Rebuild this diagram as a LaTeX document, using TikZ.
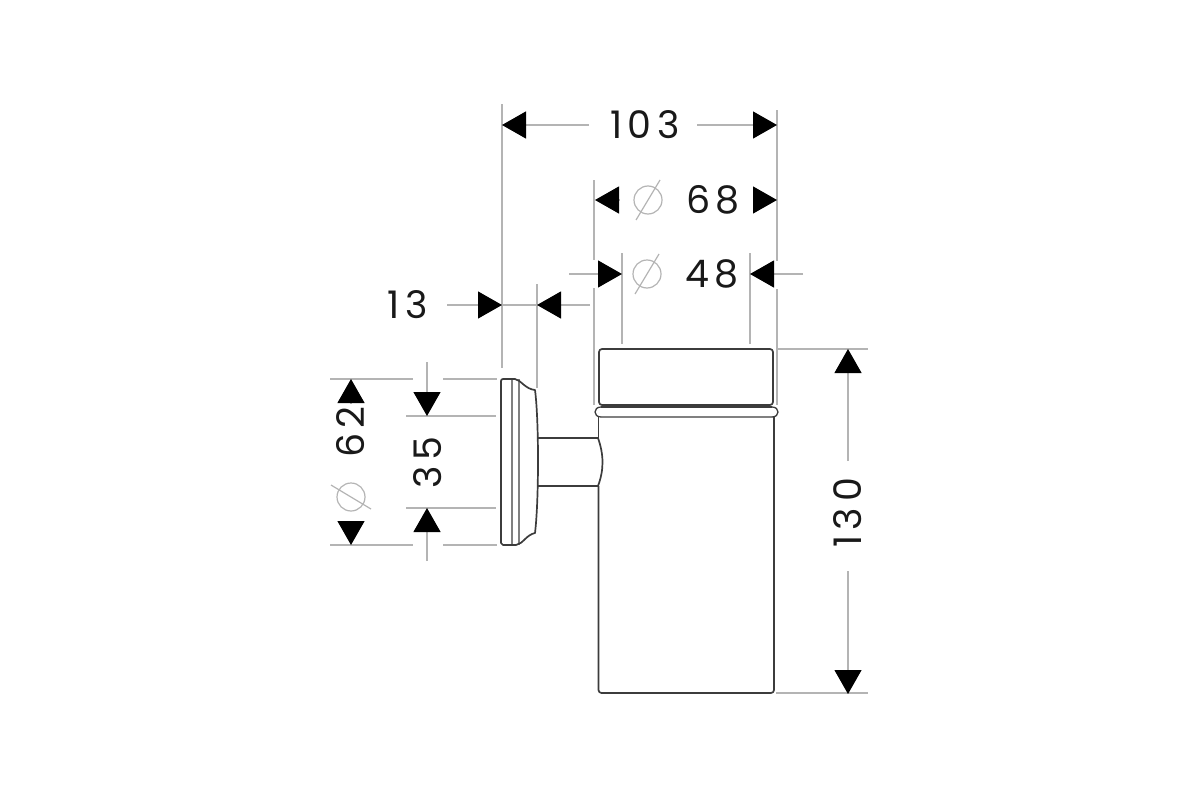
\documentclass[tikz,border=0pt]{standalone}
\usepackage{fontspec}
\setmainfont{Poppins}[LetterSpace=15]
\usetikzlibrary{arrows.meta}
\definecolor{dimgray}{HTML}{B4B4B4}
\definecolor{partgray}{HTML}{3C3C3C}
\tikzset{
  extline/.style={draw=dimgray,line width=1.2pt},
  dimarrow/.style={extline,-{Triangle[length=24pt,width=27pt,black]}},
  partline/.style={draw=partgray,line width=1.7pt,line join=round},
  partinner/.style={draw=gray,line width=1.2pt},
  dimlabel/.style={inner sep=0pt,text=black!90,font=\fontsize{38}{38}\selectfont},
  diamsign/.pic={
    \draw[extline] (0,0) circle (14pt);
    \draw[extline] (-12,20) -- (12,-20);
  }
}
\begin{document}
\begin{tikzpicture}[x=1pt,y=-1pt]
  \useasboundingbox (0,0) rectangle (1200,800);
  % wall plate
  \draw[partinner] (512,379) -- (512,545);
  \draw[partinner] (519,379) -- (519,545);
  \draw[partline] (501,381) to[out=90,in=180] (503,379) -- (515,379)
    .. controls (521,380) and (525,389) .. (535,390)
    .. controls (539,420) and (539,500) .. (535,533)
    .. controls (526,535) and (523,544) .. (516,545)
    -- (503,545) to[out=180,in=90] (501,543) -- cycle;
  % arm
  \draw[partline] (537,438) -- (598,438);
  \draw[partline] (537,486) -- (598,486);
  \draw[partline] (598,438) .. controls (604,455) and (604,470) .. (598,486);
  % holder
  \draw[partline,rounded corners=3pt] (599,405) -- (599,349) -- (773,349) -- (773,405) -- cycle;
  \draw[partline] (598.5,417) -- (598.5,438);
  \draw[partline,rounded corners=3pt] (598.5,486) -- (598.5,693) -- (774,693) -- (774,417);
  \draw[partline] (601,407) -- (772,407);
  \draw[partinner] (601,417) -- (772,417);
  \draw[partline,line width=1.3pt] (601,407) .. controls (593,407) and (593,417) .. (601,417);
  \draw[partline,line width=1.3pt] (772,407) .. controls (780,407) and (780,417) .. (772,417);
  % extension lines
  \coordinate (e1t) at (502,104); \coordinate (e1b) at (502,368);
  \coordinate (e2t) at (777,110); \coordinate (e2m) at (777,261);
  \coordinate (e2n) at (777,289); \coordinate (e2b) at (777,405);
  \coordinate (e3t) at (594,180); \coordinate (e3m) at (594,260);
  \coordinate (e3n) at (594,288); \coordinate (e3b) at (594,405);
  \coordinate (e4t) at (622,253); \coordinate (e4b) at (622,344);
  \coordinate (e5t) at (750,253); \coordinate (e5b) at (750,344);
  \coordinate (e6t) at (537,284); \coordinate (e6b) at (537,388);
  \draw[extline] (e1t) to (e1b);
  \draw[extline] (e2t) to (e2m);
  \draw[extline] (e2n) to (e2b);
  \draw[extline] (e3t) to (e3m);
  \draw[extline] (e3n) to (e3b);
  \draw[extline] (e4t) to (e4b);
  \draw[extline] (e5t) to (e5b);
  \draw[extline] (e6t) to (e6b);
  \foreach \y/\n in {379/a,545/b}{
    \coordinate (h\n1) at (330,\y); \coordinate (h\n2) at (413,\y);
    \coordinate (h\n3) at (443,\y); \coordinate (h\n4) at (497,\y);
    \draw[extline] (h\n1) to (h\n2);
    \draw[extline] (h\n3) to (h\n4);
  }
  \coordinate (hc1) at (406,416); \coordinate (hc2) at (496,416);
  \coordinate (hd1) at (406,508); \coordinate (hd2) at (496,508);
  \coordinate (he1) at (776,349); \coordinate (he2) at (868,349);
  \coordinate (hf1) at (776,693); \coordinate (hf2) at (868,693);
  \draw[extline] (hc1) to (hc2);
  \draw[extline] (hd1) to (hd2);
  \draw[extline] (he1) to (he2);
  \draw[extline] (hf1) to (hf2);
  % labels
  \node[dimlabel] (l103) at (645,125) {103};
  \node[dimlabel] (l68) at (713,200) {68};
  \node[dimlabel] (l48) at (712,274) {48};
  \node[dimlabel] (l13) at (408,305) {13};
  \node[dimlabel,rotate=90] (l62) at (351,432) {62};
  \node[dimlabel,rotate=90] (l35) at (428,463) {35};
  \node[dimlabel,rotate=90] (l130) at (848,513) {130};
  \pic at (648,200) {diamsign};
  \pic at (647,274) {diamsign};
  \pic[rotate=90] at (351,497) {diamsign};
  % dimension arrows
  \coordinate (a103l) at (589,125); \coordinate (t103l) at (502,125);
  \coordinate (a103r) at (697,125); \coordinate (t103r) at (777,125);
  \coordinate (a68l) at (619,200); \coordinate (t68l) at (595,200);
  \coordinate (a68r) at (753,200); \coordinate (t68r) at (777,200);
  \coordinate (a48l) at (569,274); \coordinate (t48l) at (622,274);
  \coordinate (a48r) at (803,274); \coordinate (t48r) at (750,274);
  \coordinate (a13l) at (447,305); \coordinate (t13l) at (502,305);
  \coordinate (a13r) at (590,305); \coordinate (t13r) at (537,305);
  \coordinate (a62t) at (351,403); \coordinate (t62t) at (351,379);
  \coordinate (a62b) at (351,521); \coordinate (t62b) at (351,545);
  \coordinate (a35t) at (427,362); \coordinate (t35t) at (427,416);
  \coordinate (a35b) at (427,561); \coordinate (t35b) at (427,508);
  \coordinate (a130t) at (848,461); \coordinate (t130t) at (848,349);
  \coordinate (a130b) at (848,571); \coordinate (t130b) at (848,694);
  \foreach \d in {103l,103r,68l,68r,48l,48r,13l,13r,62t,62b,35t,35b,130t,130b}
    \draw[dimarrow] (a\d) to (t\d);
  \draw[extline] (t13l) to (t13r);
\end{tikzpicture}
\end{document}
